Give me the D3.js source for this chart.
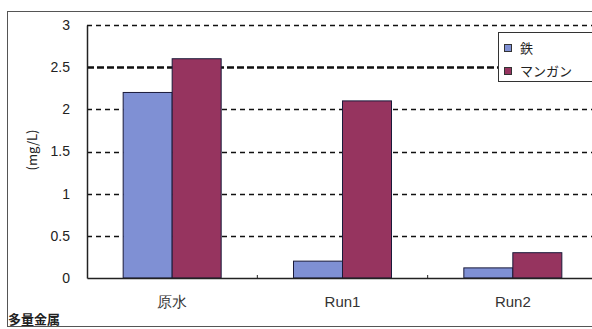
<!DOCTYPE html>
<html>
<head>
<meta charset="utf-8">
<script src="https://cdn.jsdelivr.net/npm/d3@7"></script>
<style>
  body { margin: 0; background: #fff; }
  svg { display: block; font-family: "Noto Sans CJK JP", "DejaVu Sans", sans-serif; }
</style>
</head>
<body>
<svg id="chart" width="592" height="329"></svg>
<script>
// data
var categories = ["原水", "Run1", "Run2"];
var seriesNames = ["鉄", "マンガン"];
var iron = [2.2, 0.2, 0.12];
var manganese = [2.6, 2.1, 0.3];
var yTicks = [0, 0.5, 1, 1.5, 2, 2.5, 3];
var yTickLabels = ["0", "0.5", "1", "1.5", "2", "2.5", "3"];

var colors = ["#7f90d4", "#96345f"];

var svg = d3.select("#chart"),
  margin = { left: 87, top: 25, right: -6, bottom: 51 },
  width = 592 - margin.left - margin.right,
  height = 329 - margin.top - margin.bottom;

// outer frame
svg.append("rect").attr("x", 7.5).attr("y", 11.5).attr("width", 600).attr("height", 315)
  .attr("fill", "#fff").attr("stroke", "#555").attr("stroke-width", 1);

var g = svg.append("g").attr("transform", "translate(" + margin.left + "," + margin.top + ")");

var x = d3.scaleBand().domain(categories).range([0, width]);
var xs = d3.scaleBand().domain(seriesNames).range([x.bandwidth() / 2 - 49, x.bandwidth() / 2 + 49]);
var y = d3.scaleLinear().domain([0, 3]).range([height, 0]);

// dashed grid lines
g.selectAll(".grid").data(yTicks.filter(function (d) { return d > 0; })).enter().append("line")
  .attr("class", "grid")
  .attr("x1", 0).attr("x2", width)
  .attr("y1", function (d) { return Math.round(y(d)) + 0.5; })
  .attr("y2", function (d) { return Math.round(y(d)) + 0.5; })
  .attr("stroke", "#111")
  .attr("stroke-width", function (d) { return d === 2.5 ? 2.6 : 1.6; })
  .attr("stroke-dasharray", function (d) { return d === 2.5 ? "7,3" : "5,4"; });

// bars
var rows = categories.map(function (c, i) { return { cat: c, vals: [iron[i], manganese[i]] }; });
var grp = g.selectAll(".grp").data(rows).enter().append("g")
  .attr("transform", function (d) { return "translate(" + x(d.cat) + ",0)"; });
grp.selectAll("rect").data(function (d) { return d.vals.map(function (v, j) { return { s: seriesNames[j], v: v, j: j }; }); })
  .enter().append("rect")
  .attr("x", function (d) { return xs(d.s); })
  .attr("width", xs.bandwidth())
  .attr("y", function (d) { return y(d.v); })
  .attr("height", function (d) { return height - y(d.v); })
  .attr("fill", function (d) { return colors[d.j]; })
  .attr("stroke", "#1a1a3a").attr("stroke-width", 1);

// axes
var yAxis = g.append("g").call(d3.axisLeft(y).tickValues(yTicks).tickFormat(function (d, i) { return yTickLabels[i]; }).tickSize(0).tickPadding(17));
yAxis.select(".domain").attr("stroke", "#222").attr("stroke-width", 1.5);
yAxis.selectAll("text").attr("font-size", 14).attr("fill", "#222");

var xAxis = g.append("g").attr("transform", "translate(0," + height + ")")
  .call(d3.axisBottom(x).tickSize(0).tickPadding(18));
xAxis.select(".domain").attr("stroke", "#222").attr("stroke-width", 1.5);
xAxis.selectAll("text").attr("font-size", 15).attr("fill", "#333");
// small separators between categories
g.selectAll(".sep").data(categories.slice(1)).enter().append("line")
  .attr("x1", function (d) { return x(d); }).attr("x2", function (d) { return x(d); })
  .attr("y1", height - 3).attr("y2", height)
  .attr("stroke", "#222");

// y title
svg.append("text").attr("transform", "translate(37,150) rotate(-90)")
  .attr("text-anchor", "middle").attr("font-size", 13).attr("fill", "#222").text("(mg/L)");

// legend
var lg = svg.append("g").attr("transform", "translate(498,32)");
lg.append("rect").attr("x", 0.5).attr("y", 0.5).attr("width", 100).attr("height", 49)
  .attr("fill", "#fff").attr("stroke", "#333");
seriesNames.forEach(function (s, i) {
  lg.append("rect").attr("x", 6.5).attr("y", 12.5 + i * 23).attr("width", 7).attr("height", 7)
    .attr("fill", colors[i]).attr("stroke", "#333");
  lg.append("text").attr("x", 22).attr("y", 21 + i * 23).attr("font-size", 13).attr("fill", "#222").text(s);
});

// footer label
svg.append("text").attr("x", 8).attr("y", 324).attr("font-size", 13).attr("font-weight", "bold")
  .attr("fill", "#222").text("多量金属");
</script>
</body>
</html>
